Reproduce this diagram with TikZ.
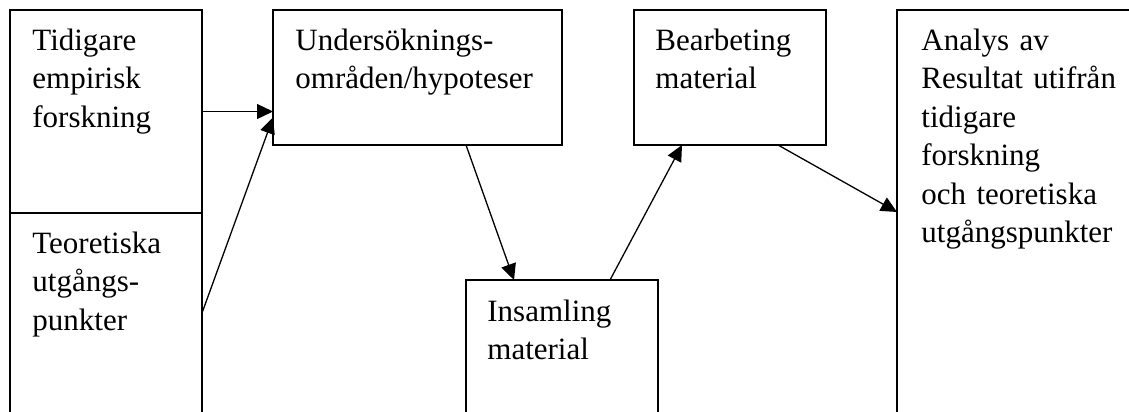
\documentclass[tikz,border=0pt]{standalone}
\usepackage{fontspec}
\setmainfont{Liberation Serif}
\usetikzlibrary{arrows.meta,calc}

\begin{document}
\begin{tikzpicture}[x=0.5pt,y=-0.5pt,
	box/.style={draw,line width=0.65pt,inner sep=0pt,outer sep=0pt,anchor=north west},
	txt/.style={anchor=north west,inner sep=0pt,text width=140pt,align=left,
		font=\fontsize{15.5}{19.25}\selectfont,execute at begin node=\strut},
	pil/.style={-{Triangle[length=8pt,width=7.5pt]},line width=0.65pt}]
	% Page frame
	\useasboundingbox (0,0) rectangle (1129,412);
	\clip (0,0) rectangle (1129,412);
	% Boxes
	\node[box,minimum width=96pt,minimum height=101.5pt] (tidig) at (10,10) {};
	\node[box,minimum width=96pt,minimum height=100pt] (teor) at (10,213) {};
	\node[box,minimum width=144.5pt,minimum height=67.5pt] (unders) at (273,10) {};
	\node[box,minimum width=96pt,minimum height=75pt] (insam) at (466,280) {};
	\node[box,minimum width=96pt,minimum height=67.5pt] (bearb) at (634,10) {};
	\node[box,minimum width=130pt,minimum height=202pt] (analys) at (897,10) {};
	% Texts
	\node[txt] (tidigtxt) at ($(tidig.north west)+(22,13)$) {Tidigare\\empirisk\\forskning};
	\node[txt] (teortxt) at ($(teor.north west)+(22,13)$) {Teoretiska\\utgångs-\\punkter};
	\node[txt] (understxt) at ($(unders.north west)+(22,13)$) {Undersöknings-\\områden/hypoteser};
	\node[txt] (insamtxt) at ($(insam.north west)+(21,14)$) {Insamling\\material};
	\node[txt] (bearbtxt) at ($(bearb.north west)+(21,13)$) {Bearbeting\\material};
	\node[txt] (analystxt) at ($(analys.north west)+(24,13)$) {Analys av\\Resultat utifrån\\tidigare\\forskning\\och teoretiska\\utgångspunkter};
	% Arrows
	\draw[pil] (tidig.east) -- (tidig.east -| unders.west);
	\draw[pil] (teor.east) -- ($(unders.west)+(0,40)$);
	\draw[pil] (insam.west |- unders.south) -- ($(insam.north west)!0.25!(insam.north east)$);
	\draw[pil] ($(insam.north west)!0.75!(insam.north east)$) -- ($(bearb.south west)!0.25!(bearb.south east)$);
	\draw[pil] ($(bearb.south west)!0.75!(bearb.south east)$) -- (analys.west);
\end{tikzpicture}
\end{document}
